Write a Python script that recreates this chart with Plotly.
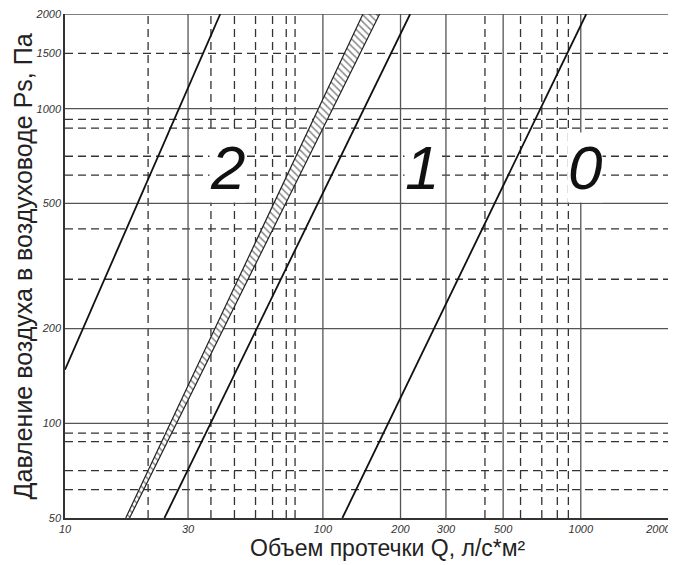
import numpy as np
import plotly.graph_objects as go

# axis ticks
x_ticks = [10, 30, 100, 200, 300, 500, 1000, 2000]
y_ticks = [50, 100, 200, 500, 1000, 1500, 2000]

# solid grid lines
x_major = [30, 100, 200, 300, 500, 1000]
y_major = [100, 200, 500, 1000, 2000]

# dashed grid lines
x_minor = [21, 36.8, 45.4, 54.8, 63.8, 72.1, 78, 425, 584, 706, 811, 895]
y_minor = [61.5, 70.7, 87.4, 93, 287, 415, 615, 706, 868, 925, 1500]

# leakage class lines (Q, Ps)
q_line2 = [10, 40]
p_line2 = [148, 2000]
q_band = [17.2, 143, 166, 17.8]
p_band = [50, 2000, 2000, 50]
q_line1 = [24.3, 218]
p_line1 = [50, 2000]
q_line0 = [119, 1050]
p_line0 = [50, 2000]

# class labels
class_names = ["2", "1", "0"]
class_q = [42.5, 243, 1040]
class_p = [650, 650, 650]

X_MIN, X_MAX = 10, 2340
Y_MIN, Y_MAX = 50, 2000


def grid_trace(vals, vertical, dash, color):
    xs, ys = [], []
    for v in vals:
        if vertical:
            xs += [v, v, None]
            ys += [Y_MIN, Y_MAX, None]
        else:
            xs += [X_MIN, X_MAX, None]
            ys += [v, v, None]
    return go.Scatter(x=xs, y=ys, mode="lines", hoverinfo="skip", showlegend=False,
                      line=dict(color=color, width=1.3, dash=dash))


fig = go.Figure()
fig.add_trace(grid_trace(x_minor, True, "8px,5px", "#333333"))
fig.add_trace(grid_trace(y_minor, False, "8px,5px", "#333333"))
fig.add_trace(grid_trace(x_major, True, "solid", "#555555"))
fig.add_trace(grid_trace(y_major, False, "solid", "#555555"))

# hatched band
fig.add_trace(go.Scatter(x=q_band, y=p_band, mode="lines", fill="toself", showlegend=False,
                         hoverinfo="skip", line=dict(color="#222222", width=1.2),
                         fillcolor="white",
                         fillpattern=dict(shape="\\", size=5, solidity=0.3,
                                          fgcolor="#111111", bgcolor="white")))

for q, p in [(q_line2, p_line2), (q_line1, p_line1), (q_line0, p_line0)]:
    fig.add_trace(go.Scatter(x=q, y=p, mode="lines", showlegend=False, hoverinfo="skip",
                             line=dict(color="#111111", width=1.8)))

for name, q, p in zip(class_names, class_q, class_p):
    fig.add_annotation(x=np.log10(q), y=np.log10(p), text=name, showarrow=False,
                       bgcolor="white", borderpad=0,
                       font=dict(family="Liberation Sans", size=62, style="italic", color="#111111"))

# axis titles
fig.add_annotation(xref="paper", yref="paper", x=0.528, y=-0.06, yanchor="middle",
                   text="Объем протечки Q, л/с*м²", showarrow=False,
                   font=dict(family="Liberation Sans", size=23, color="#222222"))
fig.add_annotation(xref="paper", yref="paper", x=-0.068, y=0.5, xanchor="center",
                   text="Давление воздуха в воздуховоде Ps, Па", showarrow=False, textangle=-90,
                   font=dict(family="Liberation Sans", size=25, color="#222222"))

tick_font = dict(family="Liberation Sans", size=11, style="italic", color="#333333")
fig.update_xaxes(type="log", range=[np.log10(X_MIN), np.log10(X_MAX)], automargin=False,
                 tickvals=x_ticks, ticktext=[str(v) for v in x_ticks], ticklabeloverflow="allow",
                 showgrid=False, zeroline=False, showline=True, linecolor="#333333", linewidth=1.5,
                 ticks="", tickfont=tick_font)
fig.update_yaxes(type="log", range=[np.log10(Y_MIN), np.log10(Y_MAX)], automargin=False,
                 tickvals=y_ticks, ticktext=[str(v) for v in y_ticks], ticklabeloverflow="allow",
                 showgrid=False, zeroline=False, showline=True, linecolor="#333333", linewidth=1.5,
                 ticks="", tickfont=tick_font)

# the page body adds an 8px offset, so the figure is sized to fit the window
fig.update_layout(width=668, height=557, margin=dict(l=57, r=0, t=6, b=47),
                  plot_bgcolor="white", paper_bgcolor="white")

fig.write_html("out.html")
